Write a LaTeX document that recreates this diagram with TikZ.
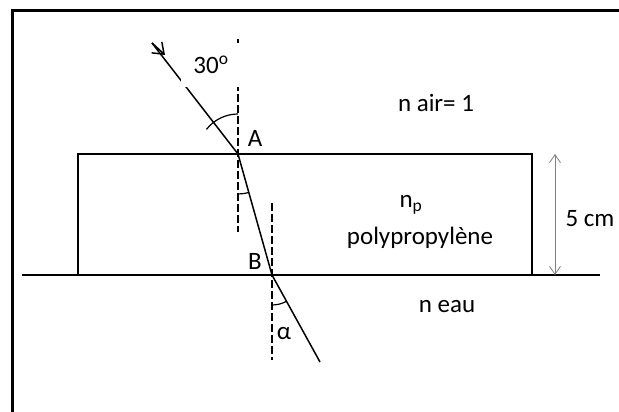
\documentclass[tikz,border=0pt]{standalone}
\usepackage{fontspec}
\setmainfont{Carlito}
\usetikzlibrary{arrows.meta}
\begin{document}
\begin{tikzpicture}[x=1pt,y=1pt,line width=1.5pt,>={Straight Barb[length=10pt,width=15pt]},
		normale/.style={line width=1.3pt,dash pattern=on 8pt off 3pt},
		cote/.style={gray,line width=0.8pt,{Straight Barb[length=8pt,width=11pt]}-{Straight Barb[length=8pt,width=11pt]}},
		lbl/.style={font=\fontsize{25}{30}\selectfont,anchor=base,inner sep=0pt}]
			\useasboundingbox (0,0) rectangle (619,412);
			\path
			(152,369) coordinate (S)
			(165,357) coordinate (M)
			(238,258) coordinate (A)
			(272,137) coordinate (B)
			(320,50) coordinate (E)
			(238,373) coordinate (nA1) (238,180) coordinate (nA2)
			(272,209) coordinate (nB1) (272,52) coordinate (nB2)
			(555,258) coordinate (c1) (555,137) coordinate (c2)
			;
			\draw[line width=3pt] (12.5,-5)--(12.5,401)--(625,401);
			\draw (22,137)--(600,137);
			\draw (78,137)--(78,258)--(532,258)--(532,137);
			\draw[cote] (c1)--(c2);
			\draw[normale] (nA1)--(nA2) (nB1)--(nB2);
			\draw (S)--(A)--(B)--(E);
			\draw[->] (S)--(M);
			\draw[line width=1.2pt] (A) ++(90:40) arc[start angle=90,end angle=142,radius=40];
			\draw[line width=1.2pt] (A) ++(270:40) arc[start angle=270,end angle=286,radius=40];
			\draw[line width=1.2pt] (B) ++(270:30) arc[start angle=270,end angle=299,radius=30];
			\node[fill=white,inner sep=0pt,minimum width=60pt,minimum height=44pt,font=\fontsize{25}{30}\selectfont] (i) at (211,347) {30\textsuperscript{o}};
			\node[lbl] (lA) at (255,265) {A};
			\node[lbl] (lB) at (255,142) {B};
			\node[lbl] (alpha) at (284,72) {α};
			\node[lbl] (air) at (436,300) {n air= 1};
			\node[lbl] (np) at (411,204) {n\textsubscript{p}};
			\node[lbl] (pp) at (420,167) {polypropylène};
			\node[lbl] (eau) at (447,99) {n eau};
			\node[lbl] (h) at (590,185) {5 cm};
	\end{tikzpicture}
\end{document}
